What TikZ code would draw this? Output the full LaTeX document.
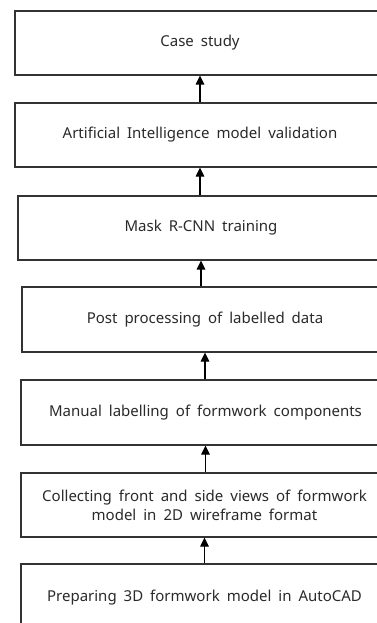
\documentclass[tikz,border=0pt]{standalone}
\usepackage{fontspec}
\setmainfont{Noto Sans}
\usetikzlibrary{arrows.meta}
\definecolor{linec}{HTML}{333333}
\definecolor{textc}{HTML}{2A2A2A}
\newcommand{\boxfont}{\fontsize{15}{19}\selectfont\spaceskip=7pt plus 1pt minus 1pt\relax}
\tikzset{
  stepbox/.style={draw=linec, line width=1.1pt, rectangle, minimum height=64pt,
    text=textc, align=center, font=\boxfont, inner sep=0pt},
  arr/.style={draw=black, line width=1.1pt, -{Triangle[length=9pt,width=8.5pt]}}
}
\begin{document}
\begin{tikzpicture}[x=1pt,y=-1pt]
\clip (0,0) rectangle (377,623);
\fill[white] (0,0) rectangle (377,623);
\node[stepbox, minimum width=370pt] (b1) at (200,43) {Case study};
\node[stepbox, minimum width=370pt] (b2) at (200,135) {Artificial Intelligence model validation};
\node[stepbox, minimum width=366pt] (b3) at (201,228) {Mask R-CNN training};
\node[stepbox, minimum width=366pt, minimum height=65pt] (b4) at (205,319.5) {Post processing of labelled data};
\node[stepbox, minimum width=369pt, minimum height=65pt] (b5) at (205.5,412.5) {Manual labelling of formwork components};
\node[stepbox, minimum width=367pt] (b6) at (204.5,505) {Collecting front and side views of formwork\\model in 2D wireframe format};
\node[stepbox, minimum width=367pt, minimum height=68pt] (b7) at (204.5,598) {Preparing 3D formwork model in AutoCAD};
\draw[arr] (b2.north) -- (b1.south);
\draw[arr] (b3.north -| b2.south) -- (b2.south);
\draw[arr] (b4.north -| b3.south) -- (b3.south);
\draw[arr] (b5.north -| b4.south) -- (b4.south);
\draw[arr] (b6.north -| b5.south) -- (b5.south);
\draw[arr] (b7.north -| b6.south) -- (b6.south);
\end{tikzpicture}
\end{document}
